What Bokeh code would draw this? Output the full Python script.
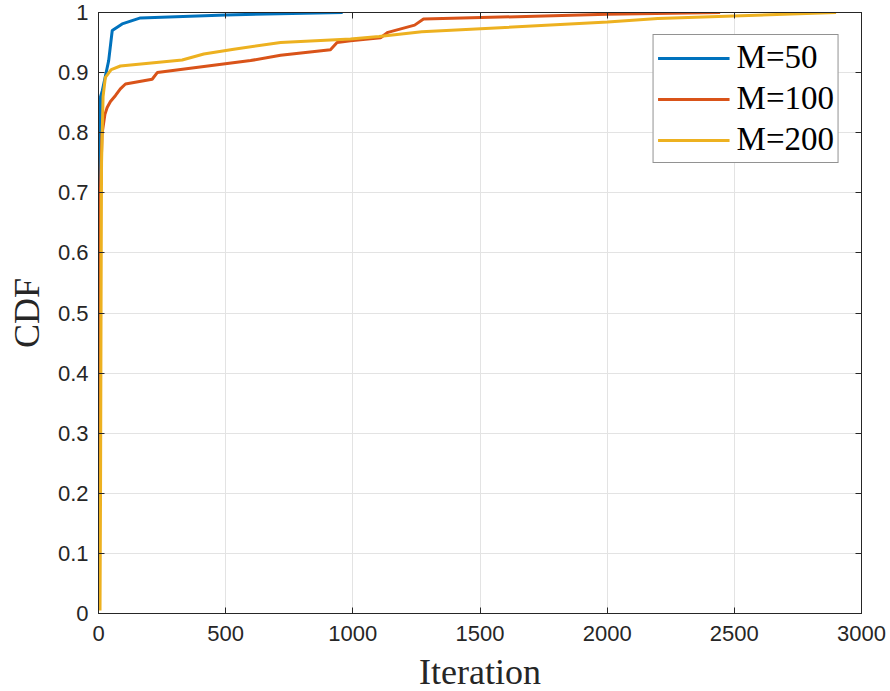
from bokeh.plotting import figure
from bokeh.models import Range1d, LinearAxis, Legend, LegendItem, FixedTicker, CustomJSTickFormatter
from bokeh.embed import file_html
from bokeh.resources import INLINE

# M=50
x50 = [1, 3, 5, 8, 15, 27, 40, 54, 93, 165, 500, 960]
y50 = [0.01, 0.3, 0.52, 0.86, 0.87, 0.894, 0.92, 0.97, 0.981, 0.991, 0.996, 1.0]
# M=100
x100 = [2, 5, 8, 14, 25, 34, 47, 67, 86, 106, 211, 231, 598, 716, 912, 938, 991, 1109, 1138, 1243, 1278, 2000, 2444]
y100 = [0.01, 0.5, 0.709, 0.798, 0.83, 0.842, 0.852, 0.862, 0.873, 0.881, 0.889, 0.900, 0.920, 0.929, 0.938, 0.950, 0.953, 0.958, 0.967, 0.979, 0.989, 0.997, 1.0]
# M=200
x200 = [6, 8, 10, 12, 18, 27, 50, 86, 329, 414, 532, 716, 991, 1103, 1271, 2002, 2199, 2900]
y200 = [0.005, 0.2, 0.5, 0.75, 0.86, 0.892, 0.905, 0.911, 0.921, 0.931, 0.939, 0.950, 0.956, 0.960, 0.968, 0.984, 0.990, 1.0]

x_ticks = [0, 500, 1000, 1500, 2000, 2500, 3000]
y_ticks = [0, 0.1, 0.2, 0.3, 0.4, 0.5, 0.6, 0.7, 0.8, 0.9, 1.0]
labels = ["M=50", "M=100", "M=200"]
colors = ["#0072BD", "#D95319", "#EDB120"]

AX = "#262626"
p = figure(frame_width=763, frame_height=601, output_backend="svg", toolbar_location=None,
           x_range=Range1d(0, 3000), y_range=Range1d(0, 1),
           min_border_left=98, min_border_right=29, min_border_top=12, min_border_bottom=78,
           x_axis_label="Iteration", y_axis_label="CDF")
p.outline_line_color = AX
p.outline_line_width = 1
p.background_fill_color = "white"
p.border_fill_color = "white"

p.xaxis.ticker = FixedTicker(ticks=x_ticks)
p.yaxis.ticker = FixedTicker(ticks=y_ticks)
p.yaxis.major_label_overrides = {0: "0", 1: "1"}
for ax in [p.xaxis[0], p.yaxis[0]]:
    ax.axis_line_color = AX
    ax.major_tick_line_color = AX
    ax.major_tick_in = 6
    ax.major_tick_out = 0
    ax.minor_tick_line_color = None
    ax.major_label_text_font = "Liberation Sans"
    ax.major_label_text_font_size = "22px"
    ax.major_label_text_color = AX
    ax.axis_label_text_font = "Liberation Serif"
    ax.axis_label_text_font_size = "36px"
    ax.axis_label_text_font_style = "normal"
    ax.axis_label_text_color = AX
p.xaxis.major_label_standoff = 12
p.xaxis.axis_label_standoff = 8
p.yaxis.major_label_standoff = 10
p.yaxis.axis_label_standoff = 8

for loc, tk in [("right", y_ticks), ("above", x_ticks)]:
    a = LinearAxis(ticker=FixedTicker(ticks=tk),
                   formatter=CustomJSTickFormatter(code="return ''"),
                   major_tick_in=6, major_tick_out=0, minor_tick_line_color=None,
                   axis_line_color=AX, major_tick_line_color=AX, major_label_standoff=0)
    p.add_layout(a, loc)

p.xgrid.ticker = FixedTicker(ticks=x_ticks)
p.ygrid.ticker = FixedTicker(ticks=y_ticks)
p.grid.grid_line_color = "#e3e3e3"
p.grid.grid_line_width = 1

rs = []
for xs, ys, c in [(x50, y50, colors[0]), (x100, y100, colors[1]), (x200, y200, colors[2])]:
    rs.append(p.line(xs, ys, line_color=c, line_width=3))

legend = Legend(items=[LegendItem(label=l, renderers=[r]) for l, r in zip(labels, rs)],
                location="top_right", margin=22)
legend.label_text_font = "Liberation Serif"
legend.label_text_font_size = "33px"
legend.label_text_color = "black"
legend.glyph_width = 72
legend.glyph_height = 36
legend.label_height = 36
legend.label_standoff = 7
legend.spacing = 4
legend.padding = 4
legend.border_line_color = AX
legend.border_line_width = 1
legend.background_fill_color = "white"
legend.background_fill_alpha = 1
p.add_layout(legend)

open("out.html", "w").write(file_html(p, INLINE))
